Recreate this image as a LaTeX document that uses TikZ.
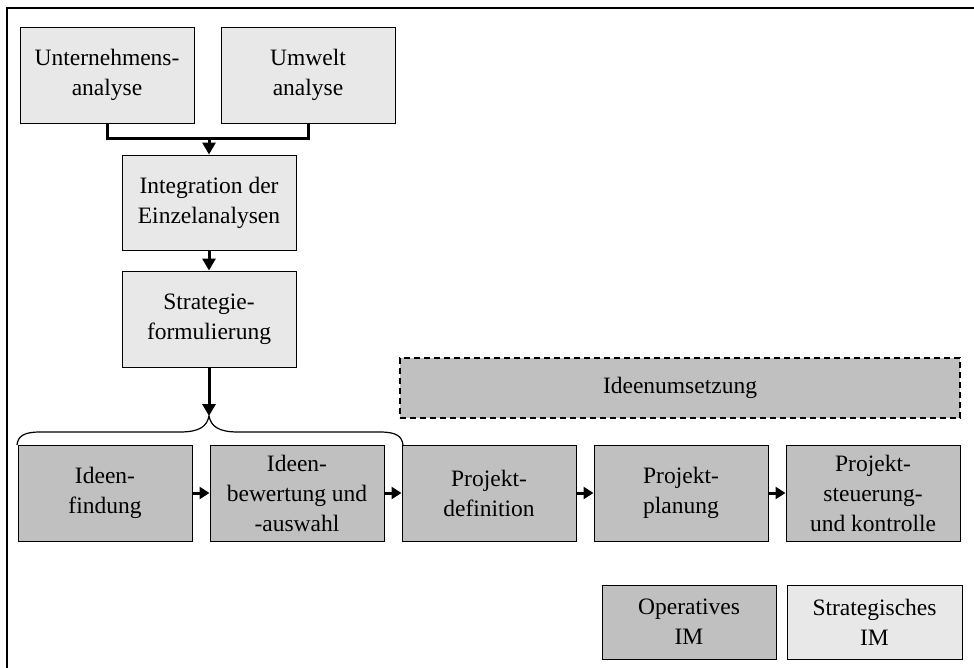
\documentclass[tikz,border=0pt]{standalone}
\usepackage{fontspec}
\setmainfont{Liberation Serif}
\usetikzlibrary{arrows.meta}
\definecolor{stratfill}{HTML}{E8E8E8}
\definecolor{opfill}{HTML}{C0C0C0}
\begin{document}
\begin{tikzpicture}[x=1pt,y=-1pt,
  box/.style={draw=black,line width=1pt,minimum width=174pt,minimum height=96pt,
    align=center,inner sep=2pt,font=\fontsize{23.5}{30}\selectfont},
  strat/.style={box,fill=stratfill},
  oper/.style={box,fill=opfill},
  conn/.style={line width=3pt},
  flow/.style={conn,-{Triangle[length=12pt,width=13pt]}},
  shortflow/.style={line width=3pt,-{Triangle[length=10pt,width=12pt]}}]
\useasboundingbox (0,0) rectangle (974,667);
% outer frame, running off the right and bottom edges
\draw[line width=1.8pt] (7,8) rectangle (990,690);

% strategic part
\node[strat] (ua) at (107,75) {Unternehmens-\\analyse};
\node[strat] (wa) at (308,75) {Umwelt\\analyse};
\node[strat,minimum height=95pt] (ia) at (209,202.5) {Integration der\\Einzelanalysen};
\node[strat] (sf) at (209,319) {Strategie-\\formulierung};

\coordinate (join) at (209,138);
\draw[conn] (ua.south) |- (join) -| (wa.south);
\draw[flow] (join) -- (ia.north);
\draw[flow] (ia.south) -- (sf.north);

% brace over the first phases
\coordinate (tip) at (209,416);
\draw[flow] (sf.south) -- (tip);
\draw[line width=1.2pt] (17,445) .. controls (18,436) and (24,432) .. (40,432)
  -- (180,432) .. controls (200,432) and (207,426) .. (tip)
  .. controls (211,426) and (218,432) .. (238,432)
  -- (380,432) .. controls (396,432) and (402,436) .. (403,445);

% operative process
\node[oper] (b1) at (105,493) {Ideen-\\findung};
\node[oper] (b2) at (297,493) {Ideen-\\bewertung und\\-auswahl};
\node[oper] (b3) at (489,493) {Projekt-\\definition};
\node[oper] (b4) at (681,493) {Projekt-\\planung};
\node[oper] (b5) at (873,493) {Projekt-\\steuerung-\\und kontrolle};
\foreach \a/\b in {b1/b2,b2/b3,b3/b4,b4/b5}
  \draw[shortflow] (\a.east) -- (\b.west);

\node[oper,dashed,dash pattern=on 6pt off 4pt,line width=2pt,minimum width=560pt,minimum height=60pt]
  (iu) at (680,388) {Ideenumsetzung};

% legend
\node[oper,minimum height=74pt] (lop) at (689,622) {Operatives\\IM};
\node[strat,minimum height=74pt,minimum width=175pt] (lst) at (874.5,622) {Strategisches\\IM};
\end{tikzpicture}
\end{document}
